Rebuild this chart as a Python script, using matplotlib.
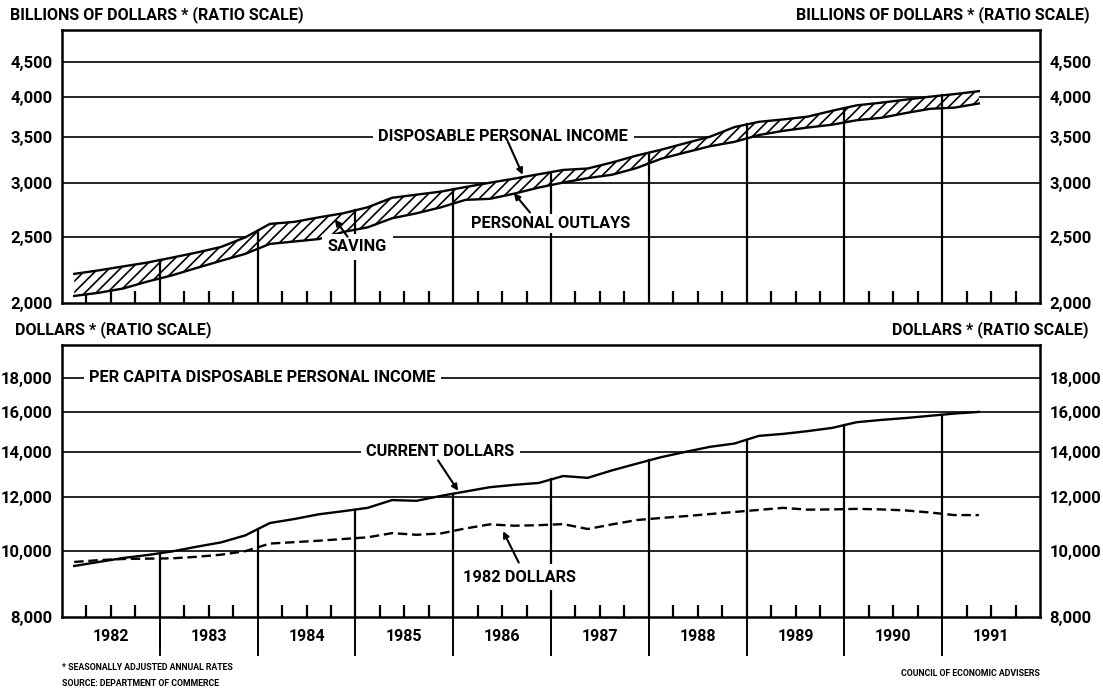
import matplotlib
matplotlib.use('Agg')
import matplotlib.pyplot as plt
import matplotlib.transforms as mtransforms
from matplotlib.ticker import FixedLocator, FuncFormatter, NullLocator
import numpy as np

plt.rcParams['font.family'] = ['Roboto', 'DejaVu Sans']
plt.rcParams['font.weight'] = 'bold'
plt.rcParams['hatch.linewidth'] = 1.2

# quarterly periods, 1982 Q1 .. 1991 Q2
periods = [f'{y}Q{q}' for y in range(1982, 1992) for q in range(1, 5)][:38]

# billions of dollars, seasonally adjusted annual rates
dpi_income = [2206, 2232, 2262, 2292, 2330, 2370, 2415, 2495, 2610, 2628,
              2668, 2705, 2760, 2850, 2880, 2910, 2955, 2998, 3040, 3085,
              3130, 3145, 3210, 3285, 3350, 3425, 3500, 3615, 3680, 3710,
              3745, 3820, 3890, 3925, 3965, 4005, 4040, 4080]
outlays = [2048, 2070, 2100, 2150, 2195, 2250, 2305, 2360, 2440, 2460,
           2480, 2540, 2580, 2660, 2705, 2760, 2830, 2840, 2890, 2950,
           3000, 3045, 3080, 3150, 3250, 3320, 3390, 3440, 3520, 3570,
           3610, 3645, 3700, 3730, 3790, 3845, 3860, 3915]

# per capita disposable personal income, dollars
pc_current = [9510, 9640, 9770, 9870, 9990, 10150, 10300, 10550, 11000, 11150,
              11330, 11450, 11580, 11890, 11860, 12060, 12240, 12420, 12520, 12600,
              12900, 12820, 13150, 13450, 13750, 14000, 14240, 14400, 14780, 14880,
              15020, 15185, 15480, 15600, 15700, 15820, 15940, 16030]
pc_1982 = [9640, 9700, 9738, 9750, 9760, 9810, 9880, 10000, 10260, 10310,
           10360, 10420, 10480, 10630, 10570, 10620, 10800, 10950, 10900, 10920,
           10960, 10780, 10950, 11110, 11190, 11260, 11340, 11420, 11500, 11580,
           11510, 11520, 11540, 11520, 11480, 11400, 11300, 11300]

years = list(range(1982, 1992))
top_ticks = [2000, 2500, 3000, 3500, 4000, 4500]
bottom_ticks = [8000, 10000, 12000, 14000, 16000, 18000]

x = np.array([int(p[:4]) + (int(p[5]) - 0.5) / 4 for p in periods])

fig = plt.figure(figsize=(11.03, 6.92), dpi=100)
ax1 = fig.add_axes([62 / 1103, 1 - 303 / 692, 978 / 1103, 273 / 692])
ax2 = fig.add_axes([62 / 1103, 1 - 617 / 692, 978 / 1103, 272 / 692])


def style_axis(ax, ticks, ylim):
    ax.set_yscale('log')
    ax.set_ylim(*ylim)
    ax.set_xlim(1982, 1992)
    ax.yaxis.set_major_locator(FixedLocator(ticks))
    ax.yaxis.set_major_formatter(FuncFormatter(lambda v, p: f'{v:,.0f}'))
    ax.yaxis.set_minor_locator(NullLocator())
    ax.tick_params(axis='y', length=0, labelleft=True, labelright=True,
                   labelsize=12, pad=7)
    qt = [y + q / 4 for y in years for q in (1, 2, 3)]
    ax.xaxis.set_major_locator(FixedLocator(qt))
    ax.xaxis.set_minor_locator(NullLocator())
    ax.tick_params(axis='x', direction='in', length=9, width=1.6,
                   labelbottom=False)
    for s in ax.spines.values():
        s.set_linewidth(1.8)
    for t in ticks[1:]:
        ax.axhline(t, color='black', lw=1.2, zorder=1)


style_axis(ax1, top_ticks, (2000, 5013))
style_axis(ax2, bottom_ticks, (8000, 20110))
for lab in ax1.get_yticklabels() + ax2.get_yticklabels():
    lab.set_fontweight('bold')

# top panel: saving band
ax1.fill_between(x, outlays, dpi_income, facecolor='white', edgecolor='black',
                 hatch='///', lw=0, zorder=2)
ax1.plot(x, dpi_income, color='black', lw=1.7, zorder=4)
ax1.plot(x, outlays, color='black', lw=1.7, zorder=4)
for y in years[1:]:
    ax1.plot([y, y], [2000, np.interp(y, x, dpi_income)], color='black',
             lw=1.6, zorder=3)

# bottom panel
ax2.plot(x, pc_current, color='black', lw=1.7, zorder=4)
ax2.plot(x, pc_1982, color='black', lw=1.7, ls=(0, (4, 2)), zorder=4)
for y in years[1:]:
    ax2.plot([y, y], [8000, np.interp(y, x, pc_current)], color='black',
             lw=1.6, zorder=3)

# year labels below the bottom panel
trans = mtransforms.blended_transform_factory(ax2.transData, ax2.transAxes)
for y in years:
    ax2.text(y + 0.5, -0.07, str(y), transform=trans, ha='center',
             va='center', fontsize=11.5, fontweight='bold')
    if y > years[0]:
        ax2.plot([y, y], [0, -0.14], transform=trans, color='black', lw=1.4,
                 clip_on=False)

box = dict(facecolor='white', edgecolor='none', pad=4)
lab_kw = dict(ha='center', va='center', fontsize=11.8, fontweight='bold',
              bbox=box, zorder=5)
arr = dict(arrowstyle='-|>', color='black', lw=1.5, mutation_scale=9,
           shrinkA=0, shrinkB=0)

ax1.text(1986.51, 3500, 'DISPOSABLE PERSONAL INCOME', **lab_kw)
ax1.annotate('', xy=(1986.71, 3080), xytext=(1986.56, 3440), arrowprops=arr,
             zorder=5)
ax1.text(1987.0, 2612, 'PERSONAL OUTLAYS', ha='center', va='center',
         fontsize=11.8, fontweight='bold', zorder=5,
         bbox=dict(facecolor='white', edgecolor='none', pad=1.5))
ax1.annotate('', xy=(1986.62, 2895), xytext=(1986.785, 2712), arrowprops=arr,
             zorder=5)
ax1.text(1985.02, 2415, 'SAVING', **lab_kw)
ax1.annotate('', xy=(1984.79, 2650), xytext=(1984.92, 2500), arrowprops=arr,
             zorder=6)

ax2.text(1984.05, 18000, 'PER CAPITA DISPOSABLE PERSONAL INCOME', **lab_kw)
ax2.text(1985.87, 14000, 'CURRENT DOLLARS', **lab_kw)
ax2.annotate('', xy=(1986.05, 12270), xytext=(1985.845, 13600), arrowprops=arr,
             zorder=5)
ax2.text(1986.68, 9150, '1982 DOLLARS', **lab_kw)
ax2.annotate('', xy=(1986.51, 10700), xytext=(1986.67, 9620), arrowprops=arr,
             zorder=5)

# axis titles
fig.text(10 / 1103, 1 - 15 / 692, 'BILLIONS OF DOLLARS * (RATIO SCALE)',
         ha='left', va='center', fontsize=11.6, fontweight='bold')
fig.text(1090 / 1103, 1 - 15 / 692, 'BILLIONS OF DOLLARS * (RATIO SCALE)',
         ha='right', va='center', fontsize=11.6, fontweight='bold')
fig.text(15 / 1103, 1 - 330 / 692, 'DOLLARS * (RATIO SCALE)',
         ha='left', va='center', fontsize=11.6, fontweight='bold')
fig.text(1088 / 1103, 1 - 330 / 692, 'DOLLARS * (RATIO SCALE)',
         ha='right', va='center', fontsize=11.6, fontweight='bold')

# footnotes
fig.text(62 / 1103, 1 - 668 / 692, '* SEASONALLY ADJUSTED ANNUAL RATES',
         ha='left', va='center', fontsize=6.3, fontweight='bold')
fig.text(62 / 1103, 1 - 684 / 692, 'SOURCE: DEPARTMENT OF COMMERCE',
         ha='left', va='center', fontsize=6.3, fontweight='bold')
fig.text(1040 / 1103, 1 - 673 / 692, 'COUNCIL OF ECONOMIC ADVISERS',
         ha='right', va='center', fontsize=6.3, fontweight='bold')

fig.savefig('out.png', dpi=100)
